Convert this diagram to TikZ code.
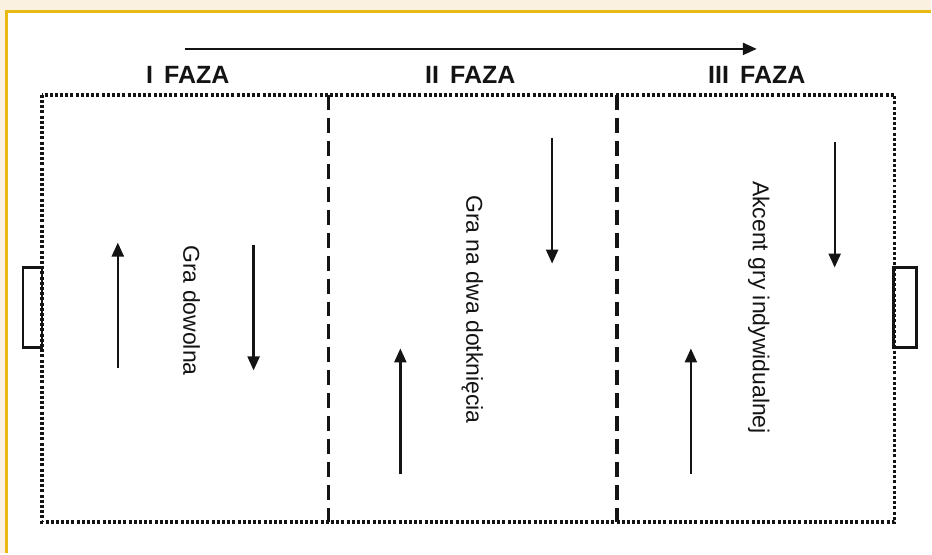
\documentclass[tikz,border=0pt]{standalone}
\usepackage{fontspec}
\setmainfont{Liberation Sans}
\usetikzlibrary{arrows.meta}
\definecolor{cream}{HTML}{FBF1E1}
\definecolor{goldline}{HTML}{E9B914}
\definecolor{ink}{HTML}{141414}
\tikzset{
  phase/.style={font=\fontsize{25}{27}\selectfont\bfseries, text=ink, inner sep=0pt},
  vlabel/.style={font=\fontsize{23}{25}\selectfont, text=ink, rotate=-90, inner sep=0pt},
  move/.style={draw=ink, line width=2.3pt, -{Triangle[length=14pt,width=12pt]}},
  fieldline/.style={draw=ink, line width=3.4pt, dash pattern=on 3pt off 2.2pt},
  divider/.style={draw=ink, line width=3.4pt, dash pattern=on 15pt off 8pt},
  goalbox/.style={draw=ink, line width=2.8pt, fill=white}
}
\begin{document}
\begin{tikzpicture}[x=1pt,y=-1pt]
  % background and frame
  \fill[cream] (0,0) rectangle (932,554);
  \fill[white] (7,12) rectangle (932,554);
  \draw[goldline, line width=3pt] (7,554) -- (7,12) -- (932,12);
  \useasboundingbox (0,0) rectangle (932,554);

  % goals
  \draw[goalbox] (23,268) rectangle (42,348);
  \draw[goalbox] (895,268) rectangle (918,348);

  % field
  \draw[fieldline] (42,95) rectangle (896,523);
  \draw[divider] (329,95) -- (329,523);
  \draw[divider] (618,95) -- (618,523);

  % top direction arrow
  \coordinate (topS) at (185,49);
  \coordinate (topE) at (758,49);
  \draw[move] (topS) -- (topE);

  % phase titles
  \node[phase] (f1) at (188,75) {I\hspace{0.45em}FAZA};
  \node[phase] (f2) at (471,75) {II\hspace{0.45em}FAZA};
  \node[phase] (f3) at (758,75) {III\hspace{0.45em}FAZA};

  % vertical labels
  \node[vlabel] (t1) at (192,311) {Gra dowolna};
  \node[vlabel] (t2) at (473,310) {Gra na dwa dotknięcia};
  \node[vlabel] (t3) at (760,308) {Akcent gry indywidualnej};

  % movement arrows
  \coordinate (a1s) at (118,369);
  \coordinate (a1e) at (118,243);
  \draw[move] (a1s) -- (a1e);
  \coordinate (a2s) at (254,245);
  \coordinate (a2e) at (254,371);
  \draw[move] (a2s) -- (a2e);
  \coordinate (a3s) at (401,475);
  \coordinate (a3e) at (401,349);
  \draw[move] (a3s) -- (a3e);
  \coordinate (a4s) at (553,138);
  \coordinate (a4e) at (553,264);
  \draw[move] (a4s) -- (a4e);
  \coordinate (a5s) at (692,475);
  \coordinate (a5e) at (692,349);
  \draw[move] (a5s) -- (a5e);
  \coordinate (a6s) at (836,142);
  \coordinate (a6e) at (836,268);
  \draw[move] (a6s) -- (a6e);
\end{tikzpicture}
\end{document}
